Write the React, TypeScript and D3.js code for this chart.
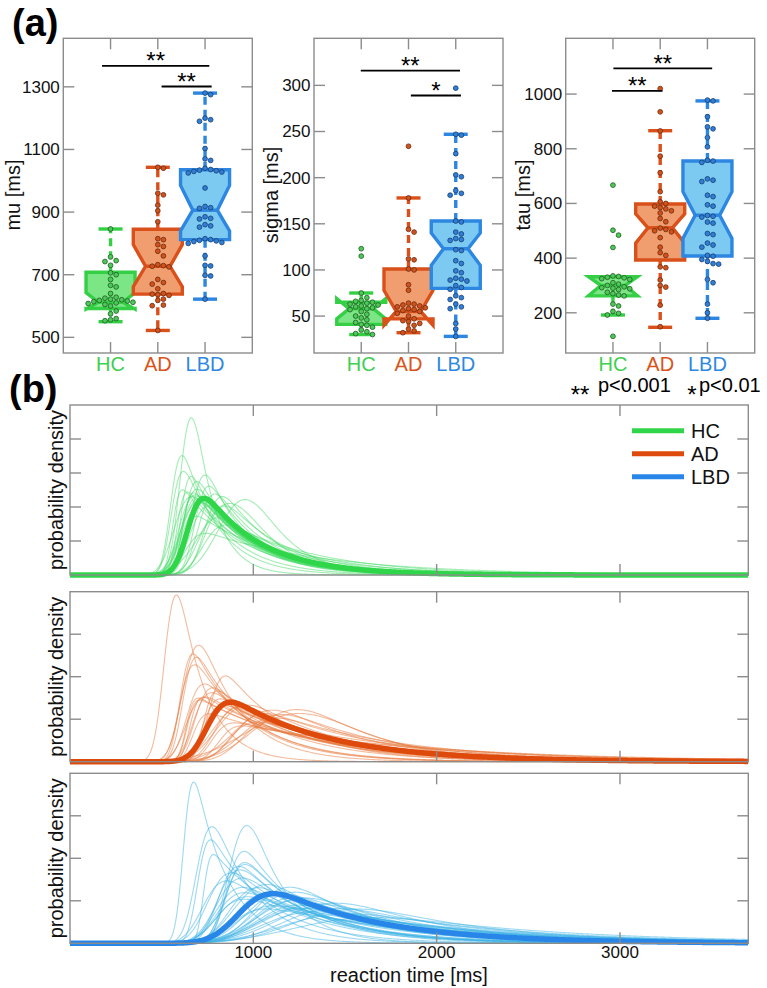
import React from 'react'
import * as d3 from 'd3'

const groups = ['HC', 'AD', 'LBD']

// per-subject ex-Gaussian fits (same subject order in mu / sigma / tau of a group)
const muHC = [610, 553, 556, 666, 846, 757, 745, 742, 730, 706, 700, 685, 661, 640, 628, 625, 622, 620, 618, 616, 614, 612, 608, 605, 600, 584, 575, 560]
const sigmaHC = [46, 40, 41, 50, 115, 123, 70, 62, 75, 58, 65, 48, 67, 55, 60, 43, 64, 38, 61, 52, 35, 59, 66, 33, 57, 31, 63, 30]
const tauHC = [114, 192, 232, 225, 198, 205, 330, 290, 502, 285, 439, 270, 335, 305, 667, 262, 322, 484, 300, 275, 328, 295, 310, 265, 292, 333, 288, 325]

const muAD = [522, 622, 603, 618, 601, 760, 685, 1040, 1043, 960, 955, 922, 904, 869, 815, 812, 796, 790, 775, 732, 729, 727, 725, 675, 670, 655, 640, 638, 636, 634]
const sigmaAD = [47, 60, 42, 45, 50, 55, 56, 234, 178, 144, 112, 141, 100, 84, 111, 64, 78, 101, 62, 59, 40, 63, 53, 58, 44, 36, 57, 34, 61, 32]
const tauAD = [149, 228, 294, 300, 320, 365, 440, 368, 420, 573, 712, 505, 643, 865, 496, 1020, 580, 533, 935, 606, 500, 590, 545, 475, 773, 565, 410, 600, 510, 585]

const muLBD = [622, 696, 880, 698, 860, 856, 852, 815, 812, 1280, 1275, 1200, 1195, 1190, 1103, 1070, 1065, 1040, 1036, 1034, 1032, 1030, 1028, 1025, 977, 918, 914, 912, 885, 878, 810, 808, 806, 803, 800, 760, 730, 728]
const sigmaLBD = [36, 58, 72, 42, 60, 63, 68, 70, 79, 297, 247, 246, 226, 203, 201, 186, 183, 181, 153, 152, 141, 139, 134, 133, 132, 122, 121, 110, 107, 99, 97, 91, 90, 89, 88, 83, 81, 28]
const tauLBD = [180, 232, 200, 310, 322, 378, 380, 388, 395, 978, 690, 880, 556, 755, 630, 917, 528, 807, 486, 758, 595, 873, 455, 685, 553, 841, 448, 590, 975, 532, 680, 440, 625, 550, 750, 410, 490, 407]

// box stats: [lower whisker, q1, notch low, median, notch high, q3, upper whisker]
const muStats = [[550, 592, 590, 612, 643, 708, 846], [522, 638, 662, 727, 796, 845, 1043], [622, 812, 840, 906, 985, 1035, 1280]]
const sigmaStats = [[30, 41, 47, 58, 69, 65, 75], [32, 47, 40, 55, 78, 101, 178], [28, 80, 105, 123, 140, 153, 247]]
const tauStats = [[192, 262, 262, 300, 332, 332, 332], [147, 393, 455, 511, 562, 598, 866], [180, 408, 472, 557, 643, 755, 975]]

const muTicks = [500, 700, 900, 1100, 1300]
const sigmaTicks = [50, 100, 150, 200, 250, 300]
const tauTicks = [200, 400, 600, 800, 1000]
const rtTicks = [1000, 2000, 3000]
const densityMax = [0.005, 0.004, 0.004]

// significance bars: [from group, to group, level, stars]
const muSig: any[] = [[0.82, 3.09, 1367, '**'], [2.08, 3.14, 1301, '**']]
const sigmaSig: any[] = [[0.99, 3.09, 316, '**'], [2.05, 3.11, 289, '*']]
const tauSig: any[] = [[1.01, 3.1, 1094, '**'], [0.98, 2.05, 1012, '**']]

const edge = ['#35cf45', '#d9501a', '#2d86e0']
const fillC = ['#7ce585', '#f09e70', '#7ccaf1']
const dotFill = ['#4cc957', '#d0521c', '#2f7ed8']
const dotStroke = ['#1f5a25', '#6e2a0c', '#173f70']
const textCol = ['#3dcf4f', '#d9541a', '#2e88e0']
const thickC = ['#30d64a', '#dd4a0c', '#2886e8']
const thinC = ['#48dc6a', '#e77a3e', '#3db4e6']
const axisC = '#8c8c8c'
const font = 'Liberation Sans, Arial, Helvetica, sans-serif'

function normCdf(z: number) {
  const x = Math.abs(z) / Math.SQRT2
  const t = 1 / (1 + 0.3275911 * x)
  const poly = t * (0.254829592 + t * (-0.284496736 + t * (1.421413741 + t * (-1.453152027 + t * 1.061405429))))
  return { poly, e: -x * x, neg: z < 0 }
}

function exGauss(x: number, mu: number, sigma: number, tau: number) {
  const a = (sigma * sigma) / (2 * tau * tau) - (x - mu) / tau
  const z = (x - mu) / sigma - sigma / tau
  const c = normCdf(z)
  if (c.neg) return (0.5 * c.poly * Math.exp(a + c.e)) / tau
  return (Math.exp(a) * (1 - 0.5 * c.poly * Math.exp(c.e))) / tau
}

function swarm(ys: number[], step: number) {
  const order = d3.range(ys.length).sort((a, b) => ys[a] - ys[b])
  const placed: { x: number; y: number }[] = []
  const out = ys.map(() => 0)
  for (const i of order) {
    let off = 0
    for (let k = 0; k < 16; k++) {
      const cand = k === 0 ? 0 : (k % 2 ? 1 : -1) * Math.ceil(k / 2) * step
      if (placed.every(p => (p.x - cand) ** 2 + (p.y - ys[i]) ** 2 >= step * step * 0.92)) {
        off = cand
        break
      }
    }
    placed.push({ x: off, y: ys[i] })
    out[i] = off
  }
  return out
}

const boxPanels = [
  { label: 'mu [ms]', data: [muHC, muAD, muLBD], stats: muStats, ticks: muTicks, domain: [450, 1455], sig: muSig, left: 63.3, labelX: 19.5 },
  { label: 'sigma [ms]', data: [sigmaHC, sigmaAD, sigmaLBD], stats: sigmaStats, ticks: sigmaTicks, domain: [10, 351], sig: sigmaSig, left: 314, labelX: 278 },
  { label: 'tau [ms]', data: [tauHC, tauAD, tauLBD], stats: tauStats, ticks: tauTicks, domain: [53, 1204], sig: tauSig, left: 565.7, labelX: 530 },
]
const boxTop = 38.3
const boxBottom = 353
const boxPanelW = 189

function BoxPanel({ p }: { p: any }) {
  const x = d3.scaleLinear().domain([0, 4]).range([p.left, p.left + boxPanelW])
  const y = d3.scaleLinear().domain(p.domain).range([boxBottom, boxTop])
  const half = 24.5
  const inset = half * 0.5
  const tl = 11
  return (
    <g>
      {/* whiskers */}
      {p.stats.map((s: number[], g: number) => {
        const cx = x(g + 1)
        const [lo, q1, , , , q3, hi] = s
        return (
          <g key={'w' + g} stroke={edge[g]} strokeWidth={3.4} fill="none">
            {hi > q3 && <line x1={cx} x2={cx} y1={y(q3)} y2={y(hi)} strokeDasharray="8,5" />}
            {lo < q1 && <line x1={cx} x2={cx} y1={y(q1)} y2={y(lo)} strokeDasharray="8,5" />}
            <line x1={cx - 12} x2={cx + 12} y1={y(hi)} y2={y(hi)} />
            <line x1={cx - 12} x2={cx + 12} y1={y(lo)} y2={y(lo)} />
          </g>
        )
      })}
      {/* notched boxes */}
      {p.stats.map((s: number[], g: number) => {
        const cx = x(g + 1)
        const [, q1, nlo, med, nhi, q3] = s
        const l = cx - half
        const r = cx + half
        const path = d3.path()
        path.moveTo(l, y(q1))
        path.lineTo(l, y(nlo))
        path.lineTo(l + inset, y(med))
        path.lineTo(l, y(nhi))
        path.lineTo(l, y(q3))
        path.lineTo(r, y(q3))
        path.lineTo(r, y(nhi))
        path.lineTo(r - inset, y(med))
        path.lineTo(r, y(nlo))
        path.lineTo(r, y(q1))
        path.closePath()
        return (
          <g key={'b' + g}>
            <path d={path.toString()} fill={fillC[g]} stroke={edge[g]} strokeWidth={3.4} strokeLinejoin="miter" />
            <line x1={l + inset} x2={r - inset} y1={y(med)} y2={y(med)} stroke={edge[g]} strokeWidth={3.4} />
          </g>
        )
      })}
      {/* subject dots */}
      {p.data.map((vals: number[], g: number) => {
        const ys = vals.map(v => y(v))
        const offs = swarm(ys, 5.6)
        return (
          <g key={'d' + g}>
            {vals.map((v, i) => (
              <circle key={i} cx={x(g + 1) + offs[i]} cy={ys[i]} r={2.4} fill={dotFill[g]} stroke={dotStroke[g]} strokeWidth={0.8} />
            ))}
          </g>
        )
      })}
      {/* frame and ticks */}
      <rect x={p.left} y={boxTop} width={boxPanelW} height={boxBottom - boxTop} fill="none" stroke={axisC} strokeWidth={1.4} />
      {p.ticks.map((t: number) => (
        <g key={'t' + t} stroke={axisC} strokeWidth={1.4}>
          <line x1={p.left} x2={p.left + tl} y1={y(t)} y2={y(t)} />
          <line x1={p.left + boxPanelW - tl} x2={p.left + boxPanelW} y1={y(t)} y2={y(t)} />
        </g>
      ))}
      {p.ticks.map((t: number) => (
        <text key={'l' + t} x={p.left - 3.5} y={y(t)} dy="0.35em" textAnchor="end" fontSize={17} fill="#111">
          {t}
        </text>
      ))}
      {groups.map((gname, g) => (
        <g key={'c' + g}>
          <line x1={x(g + 1)} x2={x(g + 1)} y1={boxTop} y2={boxTop + tl} stroke={axisC} strokeWidth={1.4} />
          <line x1={x(g + 1)} x2={x(g + 1)} y1={boxBottom} y2={boxBottom - tl} stroke={axisC} strokeWidth={1.4} />
          <text x={x(g + 1)} y={371} textAnchor="middle" fontSize={20} fill={textCol[g]}>
            {gname}
          </text>
        </g>
      ))}
      {/* significance */}
      {p.sig.map((s: any[], k: number) => {
        const yy = y(s[2])
        return (
          <g key={'s' + k}>
            <line x1={x(s[0])} x2={x(s[1])} y1={yy} y2={yy} stroke="#000" strokeWidth={1.8} />
            <text x={(x(s[0]) + x(s[1])) / 2} y={yy + 3.5} textAnchor="middle" fontSize={24} fill="#000">
              {s[3]}
            </text>
          </g>
        )
      })}
      <text transform={`translate(${p.labelX},195) rotate(-90)`} textAnchor="middle" fontSize={20} fill="#111">
        {p.label}
      </text>
    </g>
  )
}

const rtLeft = 70
const rtRight = 748.3
const rtTops = [405, 591.7, 773.3]
const rtHeight = 170
const subjects = [
  [muHC, sigmaHC, tauHC],
  [muAD, sigmaAD, tauAD],
  [muLBD, sigmaLBD, tauLBD],
]

function RtPanel({ g }: { g: number }) {
  const top = rtTops[g]
  const bottom = top + rtHeight
  const x = d3.scaleLinear().domain([0, 3700]).range([rtLeft, rtRight])
  const y = d3.scaleLinear().domain([0, densityMax[g]]).range([bottom, top])
  const ts = d3.range(0, 3701, 5)
  const line = d3.line<number[]>().x(d => x(d[0])).y(d => y(d[1]))
  const [mus, sigmas, taus] = subjects[g]
  const curves = mus.map((m, i) => ts.map(t => [t, exGauss(t, m, sigmas[i], taus[i])]))
  const gm = d3.mean(mus) as number
  const gs = d3.mean(sigmas) as number
  const gt = d3.mean(taus) as number
  const mean = ts.map(t => [t, exGauss(t, gm, gs, gt)])
  const yTicks = d3.range(1, Math.round(densityMax[g] * 1000)).map(k => k / 1000)
  const tl = 11
  return (
    <g>
      <defs>
        <clipPath id={'clip' + g}>
          <rect x={rtLeft} y={top} width={rtRight - rtLeft} height={rtHeight + 5} />
        </clipPath>
      </defs>
      <g clipPath={`url(#clip${g})`} fill="none">
        {curves.map((c, i) => (
          <path key={i} d={line(c as any) as string} stroke={thinC[g]} strokeOpacity={0.5} strokeWidth={1.1} />
        ))}
        <path d={line(mean as any) as string} stroke={thickC[g]} strokeWidth={5.5} strokeLinejoin="round" />
      </g>
      <rect x={rtLeft} y={top} width={rtRight - rtLeft} height={rtHeight} fill="none" stroke={axisC} strokeWidth={1.4} />
      {yTicks.map(t => (
        <g key={'y' + t} stroke={axisC} strokeWidth={1.4}>
          <line x1={rtLeft} x2={rtLeft + tl} y1={y(t)} y2={y(t)} />
          <line x1={rtRight - tl} x2={rtRight} y1={y(t)} y2={y(t)} />
        </g>
      ))}
      {rtTicks.map(t => (
        <g key={'x' + t} stroke={axisC} strokeWidth={1.4}>
          <line x1={x(t)} x2={x(t)} y1={top} y2={top + tl} />
          <line x1={x(t)} x2={x(t)} y1={bottom} y2={bottom - tl} />
        </g>
      ))}
      {g === 2 &&
        rtTicks.map(t => (
          <text key={'xl' + t} x={x(t)} y={958} textAnchor="middle" fontSize={17} fill="#111">
            {t}
          </text>
        ))}
      <text transform={`translate(63,${(top + bottom) / 2}) rotate(-90)`} textAnchor="middle" fontSize={20} fill="#111">
        probability density
      </text>
      {g === 0 &&
        groups.map((name, k) => (
          <g key={'lg' + k}>
            <line x1={632} x2={684} y1={430.7 + k * 23} y2={430.7 + k * 23} stroke={thickC[k]} strokeWidth={5} />
            <text x={691} y={437.5 + k * 23} fontSize={20} fill="#111">
              {name}
            </text>
          </g>
        ))}
    </g>
  )
}

export default function App() {
  return (
    <svg width={767} height={988} style={{ position: 'absolute', left: 0, top: 0 }} fontFamily={font}>
      <rect width={767} height={988} fill="#fff" />
      <text x={12} y={36} fontSize={38} fontWeight="bold" fill="#000">(a)</text>
      {boxPanels.map((p, i) => (
        <BoxPanel key={i} p={p} />
      ))}
      <text x={580} y={403} textAnchor="middle" fontSize={24} fill="#000">**</text>
      <text x={598} y={392} fontSize={20} fill="#000">p&lt;0.001</text>
      <text x={692} y={403} textAnchor="middle" fontSize={24} fill="#000">*</text>
      <text x={699} y={392} fontSize={20} fill="#000">p&lt;0.01</text>
      <text x={9} y={402} fontSize={38} fontWeight="bold" fill="#000">(b)</text>
      {[0, 1, 2].map(g => (
        <RtPanel key={g} g={g} />
      ))}
      <text x={409} y={982} textAnchor="middle" fontSize={20} fill="#111">reaction time [ms]</text>
    </svg>
  )
}
